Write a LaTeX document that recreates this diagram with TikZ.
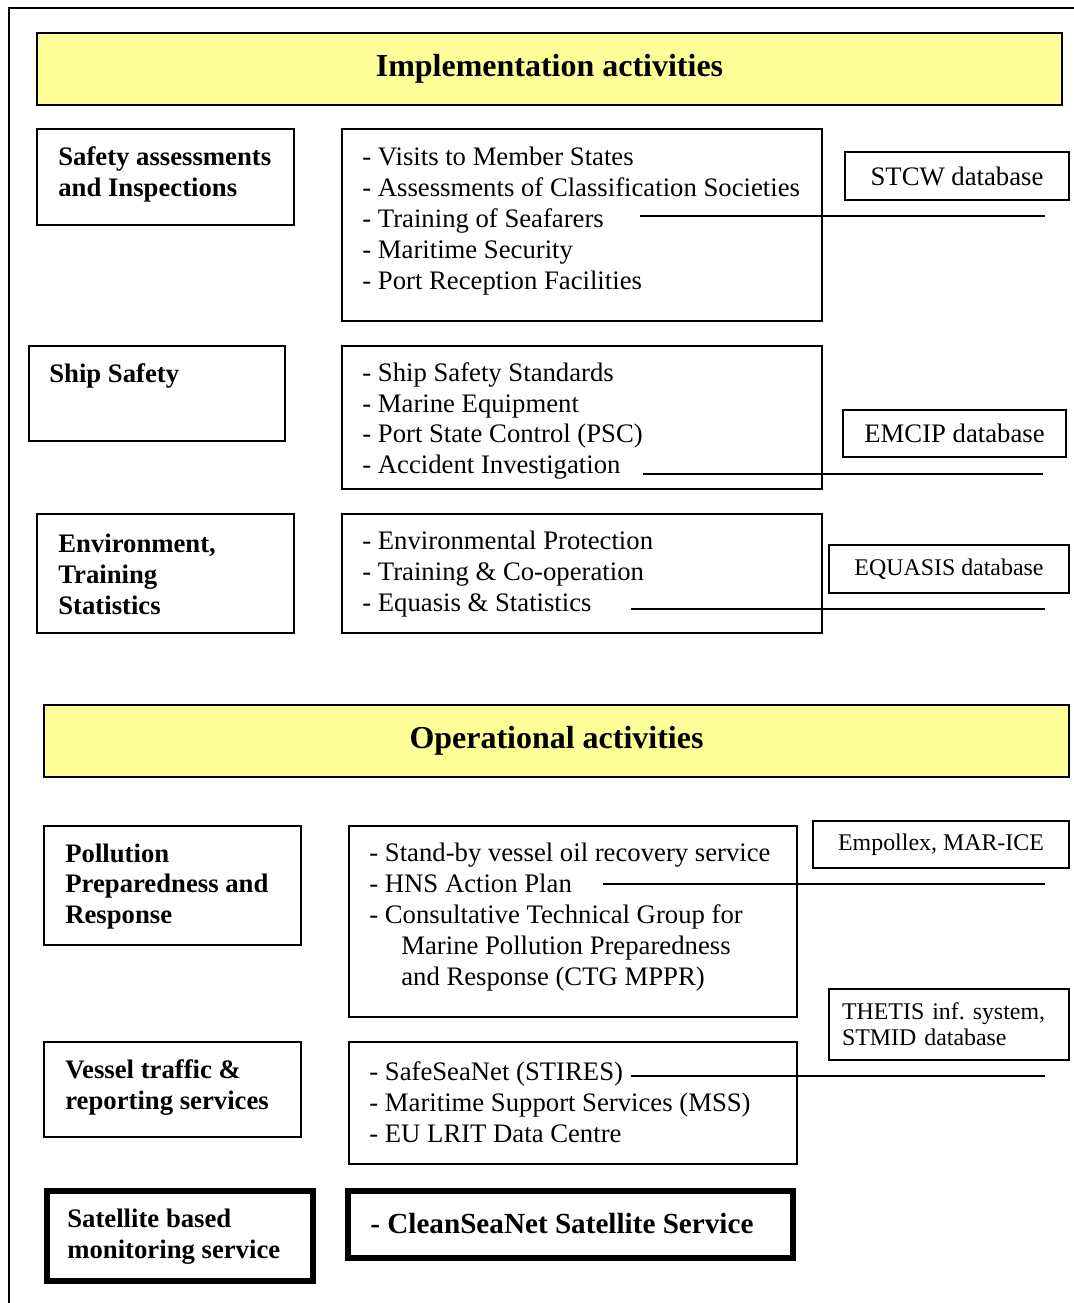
\documentclass[tikz,border=0pt]{standalone}
\usepackage{fontspec}
\setmainfont{Liberation Serif}
\usepackage{tikz}
\definecolor{titleyellow}{HTML}{FFFF99}
\frenchspacing
\newcommand{\itemfont}{\fontsize{15.2}{17.6}\selectfont}
\newcommand{\headfont}{\fontsize{15.2}{17.6}\selectfont\bfseries}
\newcommand{\bigfont}{\fontsize{18.2}{21}\selectfont\bfseries}
\newcommand{\dbfont}{\fontsize{13.6}{14.8}\selectfont}
\tikzstyle{title}=[rectangle, draw, line width=1.5pt, fill=titleyellow, minimum width=20.5cm, minimum height=1.44cm, font=\bigfont]
\tikzstyle{area}=[rectangle, draw, line width=1.1pt]
\tikzstyle{area2}=[rectangle, draw, line width=3.4pt]
\tikzstyle{dbase}=[rectangle, draw, line width=1.1pt, font=\dbfont, align=left]
\tikzstyle{head}=[inner sep=0pt, anchor=west, align=left, font=\headfont, yshift=-0.06cm]
\tikzstyle{items}=[inner sep=0pt, anchor=west, align=left, font=\itemfont, yshift=-0.06cm]
\tikzstyle{link}=[line width=1.1pt]

\begin{document}
\begin{tikzpicture}[x=0.02cm, y=-0.02cm]
\useasboundingbox (0,0) rectangle (1074,1303);
%frame
\draw[line width=1.1pt] (1074,8) -- (9,8) -- (9,1303);
%Titles
\node[title] (impl) at (549.5,69) {Implementation activities};
\node[title] (oper) at (556.5,741) {Operational activities};
%Row One
\node[area, minimum width=5.14cm, minimum height=1.92cm] (sa) at (165.5,177) {};
\node[head] (saT) at (58,171.5) {Safety assessments\\and Inspections};
\node[area, minimum width=9.6cm, minimum height=3.84cm] (saL) at (582,225) {};
\node[items] (saI) at (362,218) {- Visits to Member States\\- Assessments of Classification Societies\\- Training of Seafarers\\- Maritime Security\\- Port Reception Facilities};
\node[dbase, minimum width=4.48cm, minimum height=0.96cm, font=\itemfont] (stcw) at (957,176) {STCW database};
%Row Two
\node[area, minimum width=5.12cm, minimum height=1.9cm] (ss) at (157,393.5) {};
\node[head] (ssT) at (49,373) {Ship Safety};
\node[area, minimum width=9.6cm, minimum height=2.86cm] (ssL) at (582,417.5) {};
\node[items] (ssI) at (362,418) {- Ship Safety Standards\\- Marine Equipment\\- Port State Control (PSC)\\- Accident Investigation};
\node[dbase, minimum width=4.46cm, minimum height=0.94cm, font=\itemfont] (emcip) at (954.5,433.5) {EMCIP database};
%Row Three
\node[area, minimum width=5.14cm, minimum height=2.38cm] (env) at (165.5,573.5) {};
\node[head] (envT) at (58,571.5) {Environment,\\Training\\Statistics};
\node[area, minimum width=9.6cm, minimum height=2.38cm] (envL) at (582,573.5) {};
\node[items] (envI) at (362,571) {- Environmental Protection\\- Training \& Co-operation\\- Equasis \& Statistics};
\node[dbase, minimum width=4.8cm, minimum height=0.96cm] (equ) at (949,569) {EQUASIS database};
%Row Four
\node[area, minimum width=5.14cm, minimum height=2.38cm] (pol) at (172.5,885.5) {};
\node[head] (polT) at (65,883.5) {Pollution\\Preparedness and\\Response};
\node[area, minimum width=8.96cm, minimum height=3.82cm] (polL) at (573,921.5) {};
\node[items] (polI) at (369,914) {- Stand-by vessel oil recovery service\\- HNS Action Plan\\- Consultative Technical Group for\\\hspace*{0.64cm}Marine Pollution Preparedness\\\hspace*{0.64cm}and Response (CTG MPPR)};
\node[dbase, minimum width=5.12cm, minimum height=0.94cm] (emp) at (941,844.5) {Empollex, MAR-ICE};
%Row Five
\node[area, minimum width=5.14cm, minimum height=1.9cm] (vt) at (172.5,1089.5) {};
\node[head] (vtT) at (65,1084.5) {Vessel traffic \&\\reporting services};
\node[area, minimum width=8.96cm, minimum height=2.44cm] (vtL) at (573,1103) {};
\node[items] (vtI) at (369,1099) {- SafeSeaNet (STIRES)\\- Maritime Support Services (MSS)\\- EU LRIT Data Centre};
\node[dbase, minimum width=4.8cm, minimum height=1.42cm, text width=4.28cm, inner xsep=0.26cm] (thet) at (949,1024.5) {THETIS inf. system,\\STMID database};
%Row Six
\node[area2, minimum width=5.32cm, minimum height=1.8cm] (sat) at (180,1236) {};
\node[head] (satT) at (67,1233.5) {Satellite based\\monitoring service};
\node[area2, minimum width=8.9cm, minimum height=1.34cm] (csn) at (570.5,1224.5) {};
\node[head, font=\fontsize{16.6}{19}\selectfont\bfseries] (csnI) at (370,1221) {- CleanSeaNet Satellite Service};
%Links
\coordinate (l1a) at (640,216);  \coordinate (l1b) at (1045,216);
\coordinate (l2a) at (643,474);  \coordinate (l2b) at (1043,474);
\coordinate (l3a) at (631,609);  \coordinate (l3b) at (1045,609);
\coordinate (l4a) at (603,884);  \coordinate (l4b) at (1045,884);
\coordinate (l5a) at (631,1076); \coordinate (l5b) at (1045,1076);
\draw[link] (l1a) -- (l1b);
\draw[link] (l2a) -- (l2b);
\draw[link] (l3a) -- (l3b);
\draw[link] (l4a) -- (l4b);
\draw[link] (l5a) -- (l5b);
\end{tikzpicture}
\end{document}
